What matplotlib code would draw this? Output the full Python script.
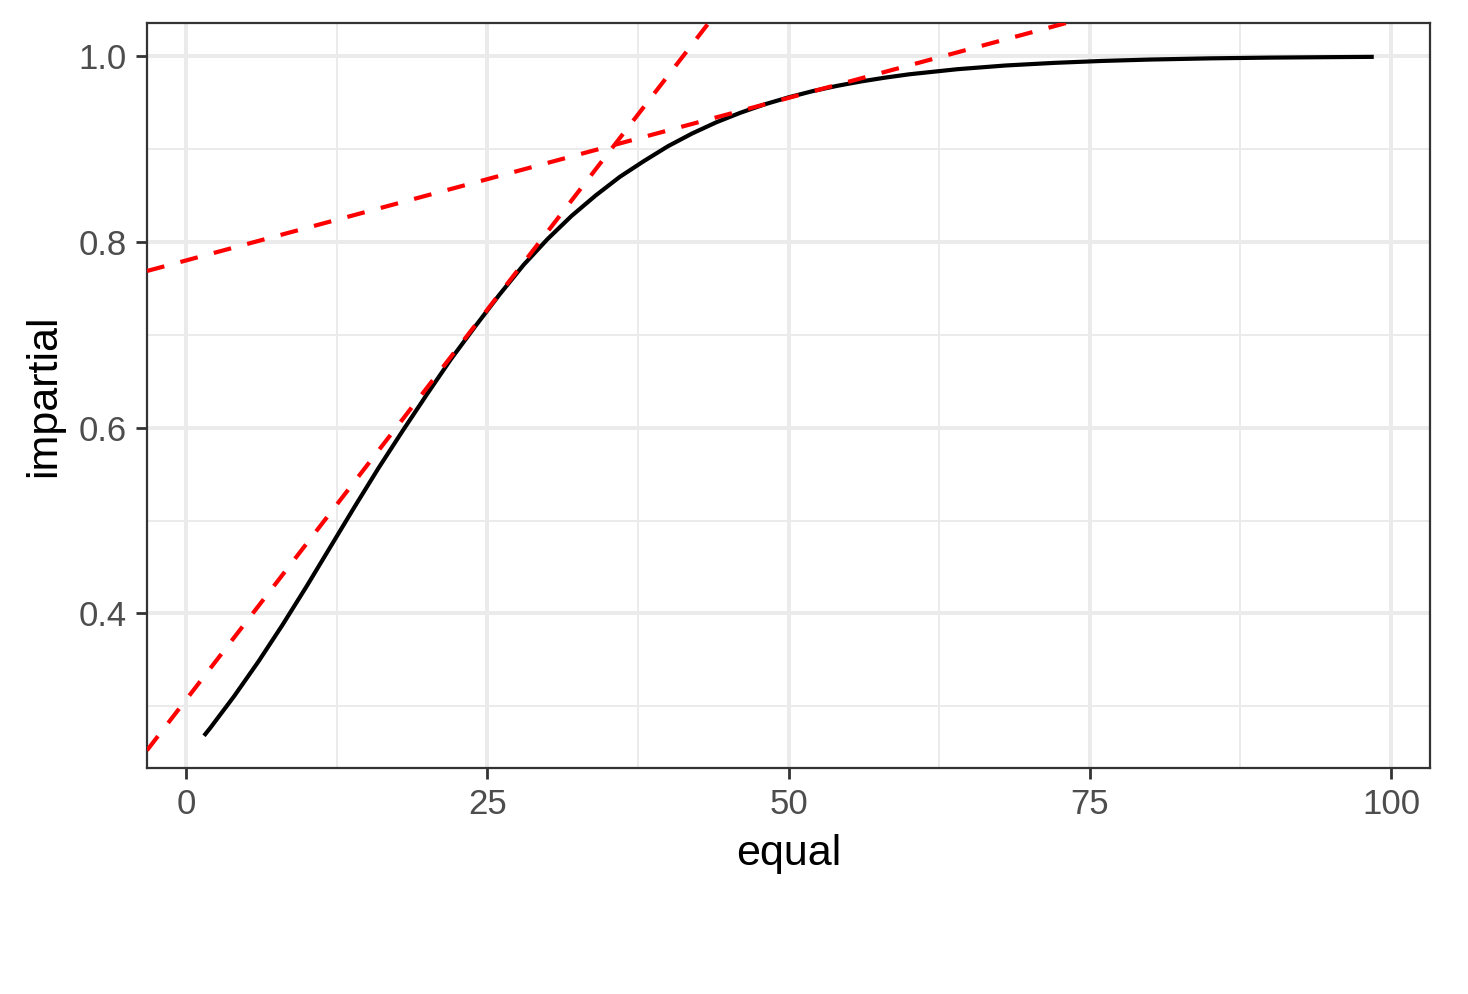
import numpy as np
import matplotlib
matplotlib.use("Agg")
import matplotlib.pyplot as plt

# curve
equal = [1.6, 2, 4, 6, 8, 10, 12, 14, 16, 18, 20, 22, 24, 26, 28, 30, 32, 34,
         36, 38, 40, 42, 44, 46, 48, 50, 52, 54, 56, 58, 60, 64, 68, 72, 76,
         80, 85, 90, 95, 98.4]
impartial = [0.270, 0.2765, 0.311, 0.348, 0.3875, 0.429, 0.472, 0.515, 0.557,
             0.597, 0.636, 0.674, 0.709, 0.743, 0.775, 0.803, 0.828, 0.850,
             0.870, 0.887, 0.903, 0.9167, 0.9287, 0.939, 0.948, 0.9556,
             0.9623, 0.9679, 0.9727, 0.9768, 0.9804, 0.9859, 0.9899, 0.9927,
             0.9948, 0.9963, 0.9976, 0.9984, 0.9989, 0.9992]

# tangent lines (intercept, slope)
tangent_intercepts = [0.307, 0.780]
tangent_slopes = [0.0168, 0.0035]

x_ticks = [0, 25, 50, 75, 100]
x_minor = [12.5, 37.5, 62.5, 87.5]
y_ticks = [0.4, 0.6, 0.8, 1.0]
y_minor = [0.3, 0.5, 0.7, 0.9]

plt.rcParams["font.family"] = ["Liberation Sans", "DejaVu Sans"]

fig = plt.figure(figsize=(7.34, 4.97), dpi=200)
ax = fig.add_axes([147 / 1468, 1 - 768 / 994, (1430 - 147) / 1468, (768 - 23) / 994])

xr = max(equal) - min(equal)
yr = max(impartial) - min(impartial)
ax.set_xlim(min(equal) - 0.05 * xr, max(equal) + 0.05 * xr)
ax.set_ylim(min(impartial) - 0.05 * yr, max(impartial) + 0.05 * yr)

ax.set_xticks(x_ticks)
ax.set_xticks(x_minor, minor=True)
ax.set_yticks(y_ticks)
ax.set_yticks(y_minor, minor=True)
ax.set_xticklabels([str(t) for t in x_ticks])
ax.set_yticklabels([f"{t:.1f}" for t in y_ticks])

ax.grid(which="major", color="#EBEBEB", linewidth=1.42)
ax.grid(which="minor", color="#EBEBEB", linewidth=0.71)
ax.set_axisbelow(True)

ax.plot(equal, impartial, color="black", linewidth=1.5, zorder=3)
for a, b in zip(tangent_intercepts, tangent_slopes):
    ax.axline((0, a), slope=b, color="red", linewidth=1.5,
              linestyle=(0, (4.3, 4)), zorder=4)

for s in ax.spines.values():
    s.set_color("#333333")
    s.set_linewidth(0.8)

ax.tick_params(which="major", length=4.0, width=1.0, color="#333333",
               labelsize=12.5, labelcolor="#4D4D4D", pad=3.3)
ax.tick_params(which="minor", length=0)

ax.set_xlabel("equal", fontsize=15.5, labelpad=4.5)
ax.set_ylabel("impartial", fontsize=15.5, labelpad=5)

fig.savefig("out.png", dpi=200)
